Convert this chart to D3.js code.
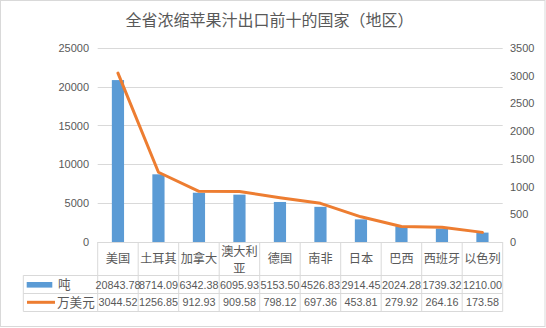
<!DOCTYPE html>
<html><head><meta charset="utf-8">
<script src="https://cdn.jsdelivr.net/npm/d3@7"></script>
<style>body{margin:0;background:#fff}svg{display:block}</style>
</head><body>
<svg id="c" width="546" height="328"></svg>
<script>
const categories = ["美国","土耳其","加拿大","澳大利亚","德国","南非","日本","巴西","西班牙","以色列"];
const tons = [20843.78,8714.09,6342.38,6095.93,5153.50,4526.83,2914.45,2024.28,1739.32,1210.00];
const usd = [3044.52,1256.85,912.93,909.58,798.12,697.36,453.81,279.92,264.16,173.58];
const tonsLabels = ["20843.78","8714.09","6342.38","6095.93","5153.50","4526.83","2914.45","2024.28","1739.32","1210.00"];
const usdLabels = ["3044.52","1256.85","912.93","909.58","798.12","697.36","453.81","279.92","264.16","173.58"];
const leftTicks = [0,5000,10000,15000,20000,25000];
const rightTicks = [0,500,1000,1500,2000,2500,3000,3500];
const seriesNames = ["吨","万美元"];
const title = "全省浓缩苹果汁出口前十的国家（地区）";

const svg = d3.select("#c");
const W=546,H=328;
const L=97.7,R=502.7,T=47.8,B=242;
const grid="#d9d9d9", txt="#595959", blue="#5b9bd5", orange="#ed7d31";
const cjk="'Noto Sans CJK SC','Noto Sans',sans-serif";
const num="'Liberation Sans',Arial,sans-serif";

svg.append("rect").attr("x",0.5).attr("y",0.5).attr("width",W-1.5).attr("height",326).attr("fill","#fff").attr("stroke",grid);

svg.append("text").attr("x",269.5).attr("y",25.5).attr("text-anchor","middle")
 .attr("font-family",cjk).attr("font-size",16).attr("fill",txt).text(title);

const x=d3.scaleBand().domain(categories).range([L,R]).paddingInner(0).paddingOuter(0);
const yL=d3.scaleLinear().domain([0,25000]).range([B,T]);
const yR=d3.scaleLinear().domain([0,3500]).range([B,T]);

// gridlines
svg.append("g").selectAll("line").data(leftTicks.filter(d=>d>0)).join("line")
 .attr("x1",L).attr("x2",R).attr("y1",d=>Math.round(yL(d))+0.5).attr("y2",d=>Math.round(yL(d))+0.5)
 .attr("stroke",grid).attr("stroke-width",1);

// axes
const gl=svg.append("g").attr("transform",`translate(${L},0)`)
 .call(d3.axisLeft(yL).tickValues(leftTicks).tickSize(0).tickPadding(8.7).tickFormat(d3.format("d")));
const gr=svg.append("g").attr("transform",`translate(${R},0)`)
 .call(d3.axisRight(yR).tickValues(rightTicks).tickSize(0).tickPadding(7.3).tickFormat(d3.format("d")));
[gl,gr].forEach(g=>{g.select(".domain").remove();
 g.selectAll("text").attr("font-family",num).attr("font-size",11).attr("fill",txt);});

// bars
const bw=12.2;
svg.append("g").selectAll("rect").data(categories).join("rect")
 .attr("x",(d)=>x(d)+x.bandwidth()/2-bw/2).attr("width",bw)
 .attr("y",(d,i)=>yL(tons[i])).attr("height",(d,i)=>B-yL(tons[i])).attr("fill",blue);

// line
const line=d3.line().x(d=>x(d.c)+x.bandwidth()/2).y(d=>yR(d.v));
svg.append("path").datum(categories.map((c,i)=>({c,v:usd[i]})))
 .attr("d",line).attr("fill","none").attr("stroke",orange).attr("stroke-width",3)
 .attr("stroke-linejoin","round").attr("stroke-linecap","round");

// data table
const r0=B, r1=275.3, r2=293.3, r3=311, legL=23.3;
const tg=svg.append("g").attr("stroke",grid).attr("stroke-width",1);
tg.append("line").attr("x1",L).attr("x2",R).attr("y1",r0+0.5).attr("y2",r0+0.5);
[r1,r2,r3].forEach(y=>tg.append("line").attr("x1",legL).attr("x2",R).attr("y1",Math.round(y)+0.5).attr("y2",Math.round(y)+0.5));
const bounds=categories.map(c=>x(c)).concat([R]);
bounds.forEach(b=>tg.append("line").attr("x1",b).attr("x2",b).attr("y1",r0).attr("y2",r3+0.5));
tg.append("line").attr("x1",legL).attr("x2",legL).attr("y1",r1).attr("y2",r3+0.5);

// category labels
const cg=svg.append("g").attr("font-family",cjk).attr("font-size",12.2).attr("fill",txt).attr("text-anchor","middle");
categories.forEach(c=>{
  const cx=x(c)+x.bandwidth()/2;
  if(c.length>3){
    cg.append("text").attr("x",cx).attr("y",255.5).text(c.slice(0,3));
    cg.append("text").attr("x",cx).attr("y",272.5).text(c.slice(3));
  } else {
    cg.append("text").attr("x",cx).attr("y",263).text(c);
  }
});

// value rows
const vg=svg.append("g").attr("font-family",num).attr("font-size",10.8).attr("fill",txt).attr("text-anchor","middle");
categories.forEach((c,i)=>{
  const cx=x(c)+x.bandwidth()/2;
  vg.append("text").attr("x",cx).attr("y",288.5).text(tonsLabels[i]);
  vg.append("text").attr("x",cx).attr("y",306.3).text(usdLabels[i]);
});

// legend keys
svg.append("rect").attr("x",26.7).attr("y",282).attr("width",25.6).attr("height",5.6).attr("fill",blue);
svg.append("line").attr("x1",27).attr("x2",55).attr("y1",302.3).attr("y2",302.3).attr("stroke",orange).attr("stroke-width",3);
const lg=svg.append("g").attr("font-family",cjk).attr("font-size",12.6).attr("fill",txt);
lg.append("text").attr("x",58).attr("y",289).text(seriesNames[0]);
lg.append("text").attr("x",57).attr("y",307).text(seriesNames[1]);
</script>
</body></html>
